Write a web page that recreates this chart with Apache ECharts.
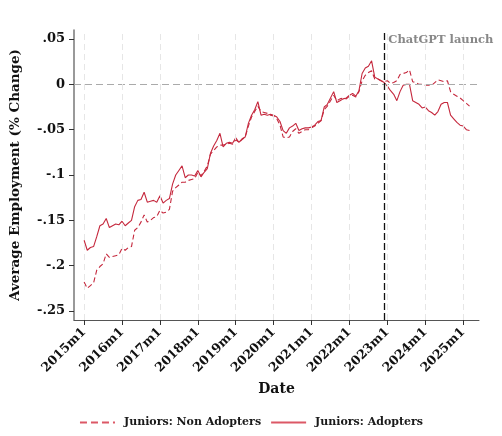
<!DOCTYPE html>
<html>
<head>
<meta charset="utf-8">
<script src="https://cdn.jsdelivr.net/npm/echarts@6/dist/echarts.min.js"></script>
<style>
  html, body { margin: 0; padding: 0; background: #fff; }
  #chart { width: 502px; height: 436px; }
</style>
</head>
<body>
<div id="chart"></div>
<script>
// months since 2015m1 (0 = 2015m1 ... 122 = 2025m3)
var yearTicks = [0, 12, 24, 36, 48, 60, 72, 84, 96, 108, 120];
var yearLabels = ["2015m1", "2016m1", "2017m1", "2018m1", "2019m1", "2020m1",
                  "2021m1", "2022m1", "2023m1", "2024m1", "2025m1"];
var yTicks = [-0.25, -0.2, -0.15, -0.1, -0.05, 0, 0.05];
var yLabels = ["-.25", "-.2", "-.15", "-.1", "-.05", "0", ".05"];
var launchMonth = 95;   // 2022m12
var launchLabelY = 0.0485;

var adopters = [
    -0.172, -0.183, -0.180, -0.179, -0.168, -0.156, -0.154, -0.148, -0.158, -0.156, -0.154, -0.155,
    -0.151, -0.156, -0.153, -0.150, -0.135, -0.128, -0.127, -0.119, -0.130, -0.129, -0.128, -0.130,
    -0.123, -0.131, -0.128, -0.126, -0.110, -0.100, -0.095, -0.090, -0.103, -0.100, -0.100, -0.101,
    -0.095, -0.102, -0.097, -0.093, -0.076, -0.068, -0.062, -0.054, -0.069, -0.065, -0.064, -0.065,
    -0.059, -0.064, -0.060, -0.058, -0.043, -0.034, -0.028, -0.019, -0.034, -0.033, -0.034, -0.033,
    -0.034, -0.036, -0.041, -0.051, -0.054, -0.048, -0.046, -0.043, -0.051, -0.049, -0.048, -0.048,
    -0.047, -0.045, -0.041, -0.040, -0.025, -0.022, -0.015, -0.008, -0.020, -0.018, -0.016, -0.015,
    -0.012, -0.010, -0.013, -0.007, 0.012, 0.018, 0.020, 0.026, 0.008, 0.006, 0.004, 0.002,
    -0.002, -0.007, -0.011, -0.018, -0.008, -0.001, 0.000, 0.000, -0.018, -0.020, -0.022, -0.026,
    -0.025, -0.029, -0.031, -0.034, -0.030, -0.022, -0.020, -0.020, -0.034, -0.038, -0.042, -0.045,
    -0.046, -0.050, -0.051
];

var nonAdopters = [
    -0.218, -0.225, -0.222, -0.219, -0.205, -0.201, -0.198, -0.187, -0.191, -0.190, -0.189, -0.188,
    -0.181, -0.183, -0.180, -0.179, -0.161, -0.158, -0.152, -0.144, -0.152, -0.150, -0.147, -0.146,
    -0.139, -0.142, -0.141, -0.138, -0.118, -0.114, -0.111, -0.108, -0.108, -0.106, -0.105, -0.104,
    -0.097, -0.101, -0.096, -0.090, -0.077, -0.073, -0.069, -0.067, -0.067, -0.066, -0.065, -0.066,
    -0.061, -0.064, -0.061, -0.058, -0.046, -0.036, -0.030, -0.024, -0.030, -0.031, -0.032, -0.034,
    -0.035, -0.038, -0.045, -0.058, -0.059, -0.058, -0.052, -0.049, -0.054, -0.052, -0.050, -0.050,
    -0.048, -0.046, -0.043, -0.040, -0.028, -0.024, -0.018, -0.012, -0.018, -0.016, -0.015, -0.016,
    -0.013, -0.012, -0.014, -0.008, 0.004, 0.010, 0.013, 0.015, 0.006, 0.006, 0.004, 0.003,
    0.004, 0.001, 0.002, 0.004, 0.011, 0.012, 0.013, 0.016, 0.003, 0.002, 0.000, 0.000,
    -0.001, -0.001, -0.001, 0.002, 0.005, 0.004, 0.003, 0.004, -0.008, -0.011, -0.013, -0.015,
    -0.018, -0.021, -0.024
];

var lineColor = "#c5283d";
var legendColor = "#dc5866";
var font = "DejaVu Serif";

function toPairs(arr) {
    return arr.map(function (v, i) { return [i, v]; });
}

var option = {
    backgroundColor: "#fff",
    animation: false,
    textStyle: { fontFamily: font, fontWeight: "bold", color: "#111" },
    grid: { left: 72, right: 23, top: 30, bottom: 116 },
    legend: {
        bottom: 3,
        left: "center",
        itemWidth: 35,
        itemHeight: 10,
        itemGap: 9,
        itemStyle: { opacity: 0 },
        textStyle: { fontFamily: font, fontWeight: "bold", fontSize: 11, color: "#1a1a1a", padding: [0, 0, 0, 4] },
        data: [
            { name: "Juniors: Non Adopters", lineStyle: { color: legendColor, width: 2, type: [7, 4] } },
            { name: "Juniors: Adopters", lineStyle: { color: legendColor, width: 2, type: "solid" } }
        ]
    },
    xAxis: {
        type: "value",
        min: -3.2,
        max: 125,
        name: "Date",
        nameLocation: "middle",
        nameGap: 62,
        nameTextStyle: { fontFamily: font, fontWeight: "bold", fontSize: 14, color: "#111" },
        axisLine: { onZero: false, lineStyle: { color: "#555", width: 1 } },
        axisTick: { show: true, customValues: yearTicks, length: 5, lineStyle: { color: "#333" } },
        axisLabel: {
            customValues: yearTicks,
            rotate: 45,
            fontSize: 12.5,
            fontWeight: "bold",
            color: "#111",
            margin: 10,
            formatter: function (v) { return yearLabels[yearTicks.indexOf(v)] || ""; }
        },
        splitLine: { show: false }
    },
    yAxis: {
        type: "value",
        min: -0.26,
        max: 0.06,
        name: "Average Employment (% Change)",
        nameLocation: "middle",
        nameGap: 52,
        nameTextStyle: { fontFamily: font, fontWeight: "bold", fontSize: 13.5, color: "#111" },
        axisLine: { show: true, onZero: false, lineStyle: { color: "#777", width: 1.5 } },
        axisTick: { show: true, customValues: yTicks, length: 5, lineStyle: { color: "#333" } },
        axisLabel: {
            customValues: yTicks,
            fontSize: 13,
            fontWeight: "bold",
            color: "#111",
            margin: 9,
            formatter: function (v) {
                for (var i = 0; i < yTicks.length; i++) {
                    if (Math.abs(yTicks[i] - v) < 1e-6) return yLabels[i];
                }
                return "";
            }
        },
        splitLine: { show: false }
    },
    series: [
        {
            name: "Juniors: Non Adopters",
            type: "line",
            data: toPairs(nonAdopters),
            symbol: "none",
            color: lineColor,
            lineStyle: { color: lineColor, width: 1.1, type: [5, 3] },
            z: 3,
            markLine: {
                silent: true,
                symbol: "none",
                label: { show: false },
                data: [
                    { yAxis: 0, lineStyle: { color: "#aaa", type: [7, 4], width: 1 } }
                ]
            }
        },
        {
            name: "Juniors: Adopters",
            type: "line",
            data: toPairs(adopters),
            symbol: "none",
            color: lineColor,
            lineStyle: { color: lineColor, width: 1.1 },
            z: 4,
            markLine: {
                silent: true,
                symbol: "none",
                label: { show: false },
                data: [
                    { xAxis: launchMonth, lineStyle: { color: "#111", type: [7, 3], width: 1.3 } }
                ]
            },
            markPoint: {
                silent: true,
                symbol: "circle",
                symbolSize: 0,
                data: [{ coord: [launchMonth, launchLabelY] }],
                label: {
                    show: true,
                    position: "right",
                    distance: 4,
                    formatter: "ChatGPT launch",
                    color: "#888",
                    fontFamily: font,
                    fontWeight: "bold",
                    fontSize: 11.5
                }
            }
        },
        {
            // light vertical year gridlines
            name: "grid",
            type: "line",
            data: [],
            markLine: {
                silent: true,
                symbol: "none",
                label: { show: false },
                lineStyle: { color: "#e6e6e6", type: [6, 4], width: 1 },
                data: yearTicks.map(function (t) { return { xAxis: t }; })
            },
            z: 1
        }
    ]
};

var chart = echarts.init(document.getElementById("chart"));
chart.setOption(option);
</script>
</body>
</html>
